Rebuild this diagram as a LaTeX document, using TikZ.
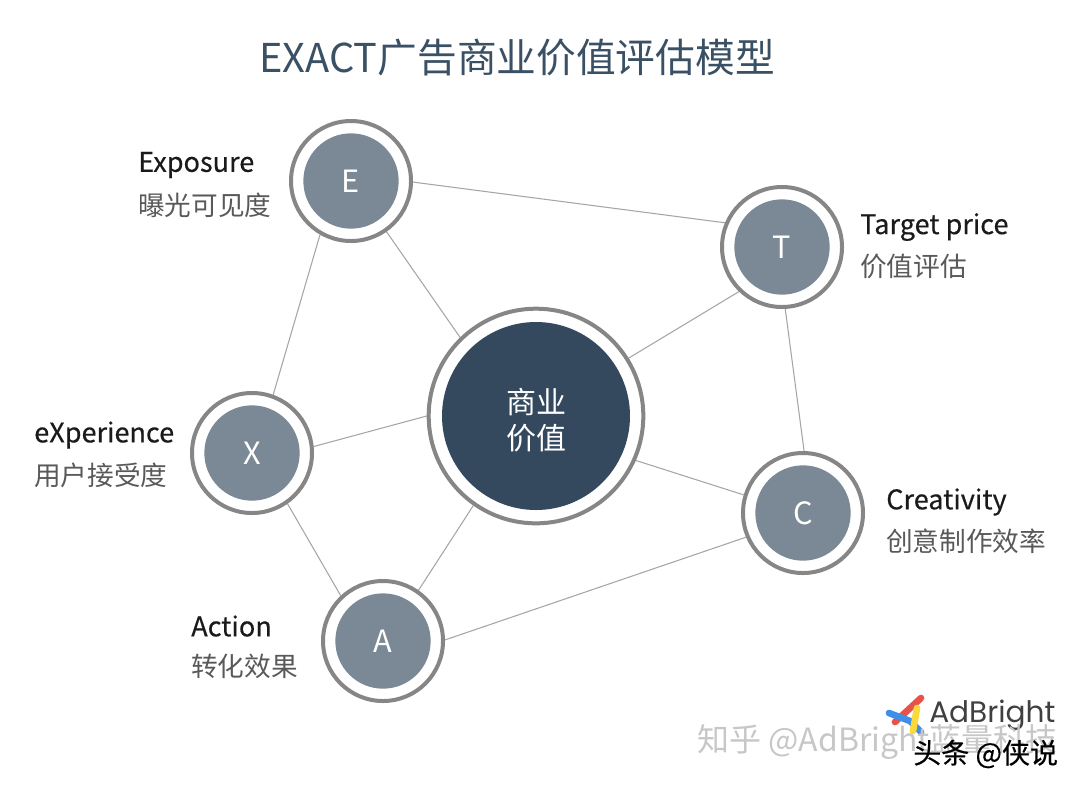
\documentclass[tikz,border=0pt]{standalone}
\usepackage{fontspec}
\setmainfont{Noto Sans CJK SC}
\newfontfamily\namefont[FakeBold=0.35]{Noto Sans CJK SC}
\newfontfamily\logofont{Poppins}
\usetikzlibrary{backgrounds}
\definecolor{titleInk}{HTML}{3A5064}
\definecolor{hubBlue}{HTML}{34495D}
\definecolor{discGray}{HTML}{7A8995}
\definecolor{ringGray}{HTML}{868686}
\definecolor{edgeGray}{HTML}{A6A6A6}
\definecolor{nameInk}{HTML}{1A1A1A}
\definecolor{noteInk}{HTML}{595959}
\definecolor{logoRed}{HTML}{E9524A}
\definecolor{logoBlue}{HTML}{3F8FE8}
\definecolor{logoYellow}{HTML}{FBD93A}

\begin{document}
\begin{tikzpicture}[%%
  x=0.75pt,y=-0.75pt,
  ringStyle/.style={circle,draw=ringGray,line width=3pt,fill=white,inner sep=0pt,minimum size=90pt},
  discStyle/.style={circle,fill=discGray,text=white,inner sep=0pt,minimum size=71.5pt,font=\fontsize{23}{23}\selectfont},
  edgeStyle/.style={-,draw=edgeGray,line width=0.8pt},
  nameStyle/.style={anchor=west,inner sep=0pt,text=nameInk,font=\namefont\fontsize{20.3}{20.3}\selectfont},
  noteStyle/.style={anchor=west,inner sep=0pt,text=noteInk,font=\fontsize{20}{20}\selectfont},
  logoStyle/.style={line width=5pt,line cap=round}
]
%%
\useasboundingbox (0,0) rectangle (1080,790);
%%
%% Hub and the five outer circles.
\node[ringStyle,minimum size=161pt] (hub) at (536,416) {};
\node[discStyle,fill=hubBlue,minimum size=141pt] (hubDisc) at (hub) {};
\node (hubText) at (536,420) [inner sep=0pt,text=white,align=center,font=\fontsize{22.5}{26.5}\selectfont] {商业\\价值};
\foreach \name/\x/\y in {E/351/181,T/782/247,X/252/453,C/803/513,A/383/641} {
  \node[ringStyle] (\name) at (\x,\y) {};
  \node[discStyle] (\name Disc) at (\name) {\name};
}
%%
%% Connectors go behind the circles.
\begin{scope}[on background layer]
  \foreach \from/\to in {E.-1/T.157,T.-87/C.89,C.203/A.1,A.133/X.-55,X.70/E.240,%
    E.-55/hub.134,T.226/hub.32,C.163/hub.-24,A.55/hub.235,X.6/hub.180}
    \draw[edgeStyle] (\from) -- (\to);
\end{scope}
%%
%% Title.
\node (title) at (517,58) [inner sep=0pt,text=titleInk,font=\fontsize{29.8}{29.8}\selectfont] {EXACT广告商业价值评估模型};
%%
%% Labels of the circles.
\node[nameStyle] (nameE) at (138,165) {Exposure};
\node[noteStyle] (noteE) at (138,205) {曝光可见度};
\node[nameStyle] (nameT) at (860,227) {Target price};
\node[noteStyle] (noteT) at (860,266) {价值评估};
\node[nameStyle] (nameX) at (34,435) {eXperience};
\node[noteStyle] (noteX) at (34,475) {用户接受度};
\node[nameStyle] (nameC) at (886,502) {Creativity};
\node[noteStyle] (noteC) at (886,541) {创意制作效率};
\node[nameStyle] (nameA) at (191,626) {Action};
\node[noteStyle] (noteA) at (191,666) {转化效果};
%%
%% Logo.
\draw[logoStyle,draw=logoRed] (921,698) -- (895,722);
\draw[logoStyle,draw=logoBlue] (889,713) -- (910,721) -- (921,732);
\draw[logoStyle,draw=logoYellow] (917,708) -- (913,731);
\node (logoText) at (929,715) [anchor=west,inner sep=0pt,text=black!75,font=\logofont\fontsize{22.2}{22.2}\selectfont] {AdBright};
%%
%% Watermarks.
\node (markZhihu) at (697,742) [anchor=west,inner sep=0pt,text=black!22,font=\fontsize{24}{24}\selectfont] {知乎 @AdBright蓝量科技};
\node (markToutiao) at (913,754) [anchor=west,inner sep=0pt,text=black,font=\namefont\fontsize{21}{21}\selectfont] {头条 @侠说};
\end{tikzpicture}
\end{document}
